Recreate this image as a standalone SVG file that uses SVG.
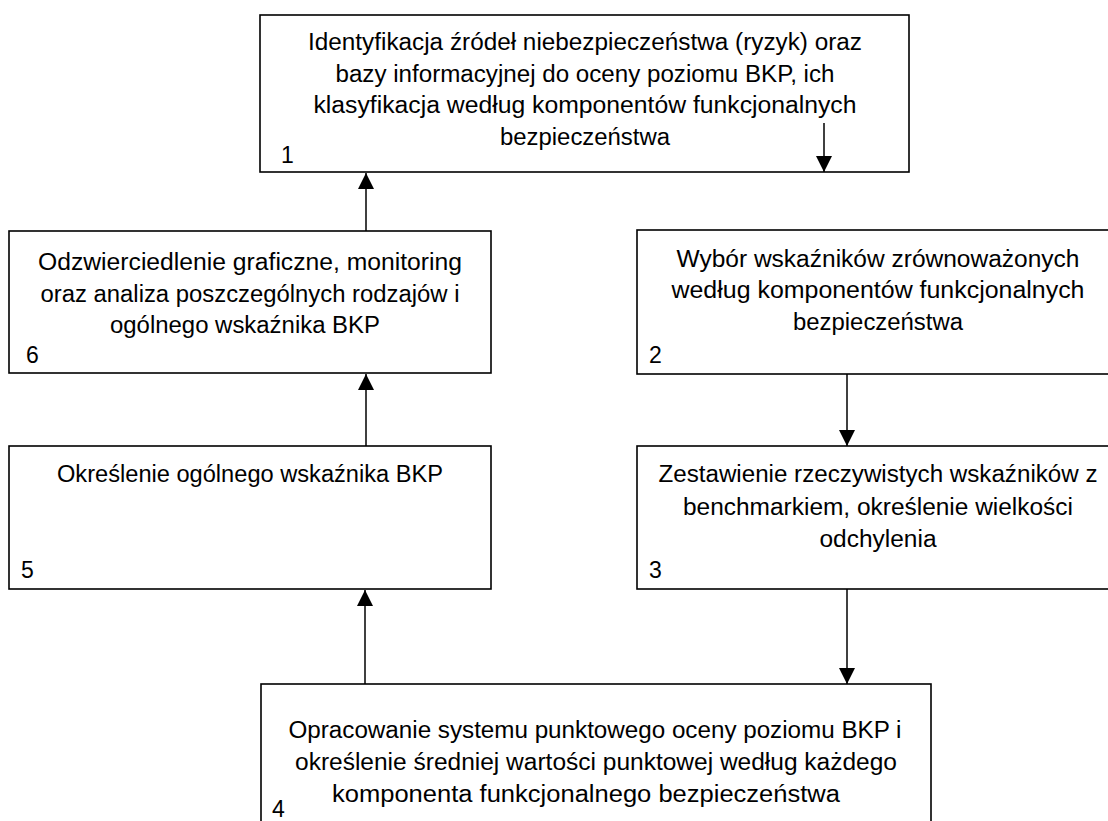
<svg xmlns="http://www.w3.org/2000/svg" width="1108" height="821" viewBox="0 0 1108 821">
<style>
.box{fill:#fff;stroke:#000;stroke-width:1.6}
.t{font-family:"Liberation Sans",Arial,sans-serif;font-size:23px;fill:#000;text-anchor:middle}
.n{font-family:"Liberation Sans",Arial,sans-serif;font-size:23px;fill:#000}
.c{stroke:#000;stroke-width:1.5;fill:none;marker-end:url(#ah)}
</style>
<defs>
<marker id="ah" markerUnits="userSpaceOnUse" markerWidth="16" markerHeight="16" viewBox="0 0 16 16" refX="16" refY="8" orient="auto">
<path d="M0,0 L16,8 L0,16 Z" fill="#000"/>
</marker>
</defs>
<rect width="1108" height="821" fill="#fff"/>
<g id="node1">
<rect class="box" x="260" y="15" width="649" height="157"/>
<text class="t" x="585" y="50" textLength="554" lengthAdjust="spacingAndGlyphs">Identyfikacja źródeł niebezpieczeństwa (ryzyk) oraz</text>
<text class="t" x="585" y="82" textLength="499" lengthAdjust="spacingAndGlyphs">bazy informacyjnej do oceny poziomu BKP, ich</text>
<text class="t" x="585" y="113" textLength="543" lengthAdjust="spacingAndGlyphs">klasyfikacja według komponentów funkcjonalnych</text>
<text class="t" x="585" y="145" textLength="170" lengthAdjust="spacingAndGlyphs">bezpieczeństwa</text>
<text class="n" x="281" y="163">1</text>
</g>
<g id="node6">
<rect class="box" x="9" y="231" width="482" height="142"/>
<text class="t" x="250" y="270" textLength="424" lengthAdjust="spacingAndGlyphs">Odzwierciedlenie graficzne, monitoring</text>
<text class="t" x="250" y="302" textLength="419" lengthAdjust="spacingAndGlyphs">oraz analiza poszczególnych rodzajów i</text>
<text class="t" x="245" y="333" textLength="270" lengthAdjust="spacingAndGlyphs">ogólnego wskaźnika BKP</text>
<text class="n" x="26" y="363">6</text>
</g>
<g id="node2">
<rect class="box" x="637" y="230" width="500" height="144"/>
<text class="t" x="878" y="267" textLength="403" lengthAdjust="spacingAndGlyphs">Wybór wskaźników zrównoważonych</text>
<text class="t" x="878" y="298" textLength="413" lengthAdjust="spacingAndGlyphs">według komponentów funkcjonalnych</text>
<text class="t" x="878" y="330" textLength="170" lengthAdjust="spacingAndGlyphs">bezpieczeństwa</text>
<text class="n" x="649" y="363">2</text>
</g>
<g id="node5">
<rect class="box" x="9" y="446" width="482" height="143"/>
<text class="t" x="250" y="482" textLength="386" lengthAdjust="spacingAndGlyphs">Określenie ogólnego wskaźnika BKP</text>
<text class="n" x="21" y="578">5</text>
</g>
<g id="node3">
<rect class="box" x="637" y="446" width="500" height="143"/>
<text class="t" x="878" y="482" textLength="439" lengthAdjust="spacingAndGlyphs">Zestawienie rzeczywistych wskaźników z</text>
<text class="t" x="878" y="515" textLength="390" lengthAdjust="spacingAndGlyphs">benchmarkiem, określenie wielkości</text>
<text class="t" x="878" y="547" textLength="117" lengthAdjust="spacingAndGlyphs">odchylenia</text>
<text class="n" x="649" y="578">3</text>
</g>
<g id="node4">
<rect class="box" x="261" y="684" width="670" height="160"/>
<text class="t" x="595" y="738" textLength="613" lengthAdjust="spacingAndGlyphs">Opracowanie systemu punktowego oceny poziomu BKP i</text>
<text class="t" x="596" y="770" textLength="602" lengthAdjust="spacingAndGlyphs">określenie średniej wartości punktowej według każdego</text>
<text class="t" x="586" y="802" textLength="508" lengthAdjust="spacingAndGlyphs">komponenta funkcjonalnego bezpieczeństwa</text>
<text class="n" x="272" y="817">4</text>
</g>
<g id="connectors">
<line class="c" x1="824" y1="123" x2="824" y2="172"/>
<line class="c" x1="366" y1="231" x2="366" y2="173"/>
<line class="c" x1="366" y1="446" x2="366" y2="374"/>
<line class="c" x1="365" y1="684" x2="365" y2="590"/>
<line class="c" x1="847" y1="374" x2="847" y2="446"/>
<line class="c" x1="847" y1="589" x2="847" y2="684"/>
</g>
</svg>
